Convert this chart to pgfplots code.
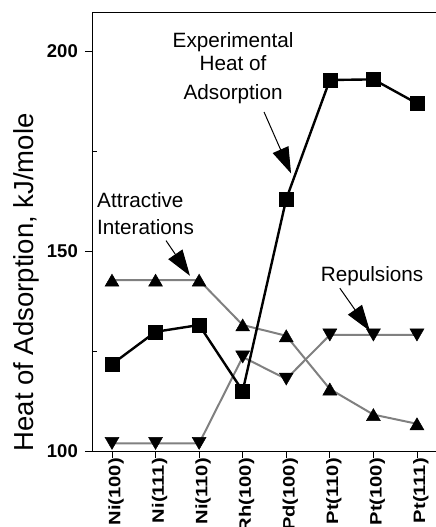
\documentclass[border=0pt]{standalone}
\usepackage{pgfplots}
\pgfplotsset{compat=1.18}
\usepackage{fontspec}
\setmainfont{Liberation Sans}
\newfontfamily\xlabfont[FakeStretch=1.22]{Liberation Sans}
\usetikzlibrary{arrows.meta}

% gray for the two model curves
\definecolor{modelgray}{gray}{0.5}

\begin{document}
\begin{tikzpicture}
\begin{axis}[
    at={(0,0)}, anchor=south west,
    scale only axis,
    width=345bp, height=439bp,
    xmin=-0.459, xmax=7.46,
    ymin=100, ymax=209.75,
    clip=false,
    tick pos=left,
    xtick={0,...,7},
    xticklabels={Ni(100),Ni(111),Ni(110),Rh(100),Pd(100),Pt(110),Pt(100),Pt(111)},
    ytick={100,150,200},
    minor ytick={},
    extra y ticks={125,175},
    extra y tick labels={},
    extra y tick style={tick align=inside, major tick length=5bp},
    tick align=outside,
    major tick length=7bp,
    tick style={black, line width=0.8bp},
    axis line style={line width=0.9bp},
    /pgf/number format/assume math mode=true,
    yticklabel style={font=\fontsize{18.5bp}{20bp}\selectfont\bfseries, inner sep=0pt, xshift=-7bp},
    xticklabel style={font=\xlabfont\fontsize{16.5bp}{19bp}\selectfont\bfseries, rotate=90, anchor=east, inner sep=0pt, yshift=-4bp},
    every axis y label/.style={at={(rel axis cs:0,0.384)}, xshift=-58.5bp, rotate=90, anchor=base, inner sep=0pt},
    ylabel={\fontsize{27.5bp}{30bp}\selectfont Heat of Adsorption, kJ/mole},
]

% repulsions (down triangles)
\addplot[modelgray, line width=2bp, mark=triangle*, mark size=8bp,
    mark options={black, fill=black, line width=0.5bp, yshift=2bp, rotate=180}]
    coordinates {(0,101.9) (1,101.9) (2,101.9) (3,123.5) (4,118.0) (5,129.0) (6,129.0) (7,129.0)};

% attractive interactions (up triangles)
\addplot[modelgray, line width=2bp, mark=triangle*, mark size=8bp,
    mark options={black, fill=black, line width=0.5bp, yshift=-2bp}]
    coordinates {(0,142.7) (1,142.7) (2,142.7) (3,131.5) (4,128.8) (5,115.5) (6,109.1) (7,106.8)};

% experimental heat of adsorption (squares)
\addplot[black, line width=2.4bp, mark=square*, mark size=7bp,
    mark options={black, fill=black, line width=0.5bp}]
    coordinates {(0,121.7) (1,129.8) (2,131.5) (3,115.0) (4,163.0) (5,192.75) (6,192.9) (7,186.9)};

% annotations
\begin{scope}[every node/.style={font=\fontsize{20.7bp}{25bp}\selectfont, inner sep=0pt}]
\node[anchor=base] at (axis cs:2.78,200.75) {Experimental};
\node[anchor=base] at (axis cs:2.78,195.0) {Heat of};
\node[anchor=base] at (axis cs:2.78,187.75) {Adsorption};
\node[anchor=base west] at (axis cs:-0.344,160.75) {Attractive};
\node[anchor=base west] at (axis cs:-0.344,154.0) {Interations};
\node[anchor=base] at (axis cs:5.97,142.3) {Repulsions};
\end{scope}
\begin{scope}[line width=1bp, -{Triangle[length=26bp,width=17bp]}]
\draw (axis cs:3.49,184.75) -- (axis cs:4.11,169.4);
\draw (axis cs:1.24,152.6) -- (axis cs:1.79,143.8);
\draw (axis cs:5.23,140.7) -- (axis cs:5.92,130.0);
\end{scope}
\end{axis}
\pgfresetboundingbox
\useasboundingbox (-92bp,-76bp) rectangle (344bp,451bp);
\end{tikzpicture}
\end{document}
